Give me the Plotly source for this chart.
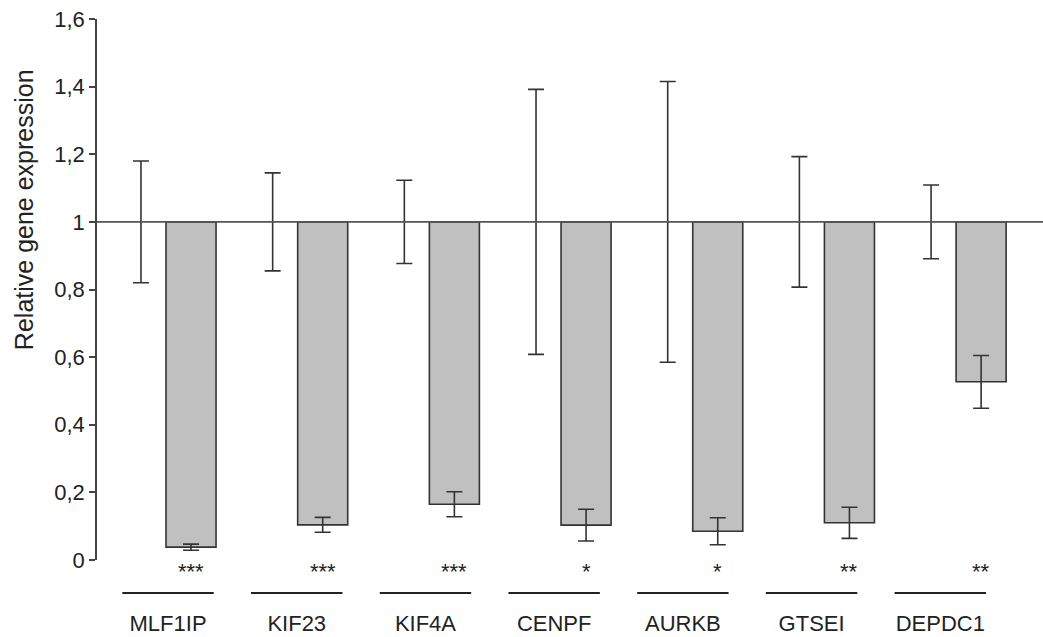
import plotly.graph_objects as go

genes = ["MLF1IP", "KIF23", "KIF4A", "CENPF", "AURKB", "GTSEI", "DEPDC1"]
control_mean = [1, 1, 1, 1, 1, 1, 1]
control_err = [0.18, 0.145, 0.123, 0.392, 0.415, 0.193, 0.109]
kd_mean = [0.038, 0.104, 0.165, 0.103, 0.085, 0.110, 0.527]
kd_err = [0.009, 0.022, 0.037, 0.047, 0.040, 0.046, 0.078]
signif = ["***", "***", "***", "*", "*", "**", "**"]
y_ticks = [0, 0.2, 0.4, 0.6, 0.8, 1, 1.2, 1.4, 1.6]
y_title = "Relative gene expression"

FONT = "Liberation Sans, Arial, Helvetica, sans-serif"
base = 1

fig = go.Figure()
fig.add_trace(go.Bar(
    x=genes, y=[v - base for v in control_mean], base=[base] * len(genes),
    marker=dict(color="rgba(255,255,255,0)", line=dict(width=0)),
    error_y=dict(type="data", array=control_err, color="#333333", thickness=1.6, width=8),
    name="control", showlegend=False,
))
fig.add_trace(go.Bar(
    x=genes, y=[v - base for v in kd_mean], base=[base] * len(genes),
    marker=dict(color="#c0c0c0", line=dict(color="#333333", width=1.6)),
    error_y=dict(type="data", array=kd_err, color="#333333", thickness=1.6, width=8),
    name="knockdown", showlegend=False,
))
# label axis (gene names + underlines sit on a slightly different spacing in the original)
fig.add_trace(go.Scatter(x=genes, y=[None] * len(genes), xaxis="x2", yaxis="y",
                         mode="markers", marker=dict(opacity=0), showlegend=False,
                         hoverinfo="skip"))

# reference line at 1
fig.add_shape(type="line", xref="paper", yref="y", x0=0, x1=1, y0=1, y1=1,
              line=dict(color="#555555", width=1.6), layer="above")

for i, g in enumerate(genes):
    fig.add_shape(type="line", xref="x2", yref="paper", x0=i - 0.355, x1=i + 0.355,
                  y0=-0.061, y1=-0.061, line=dict(color="#222222", width=2))
    fig.add_annotation(x=i + 0.19, xref="x", y=-0.022, yref="paper", text=signif[i],
                       showarrow=False, yanchor="middle",
                       font=dict(family=FONT, size=22, color="#222222"))

# y-axis title (placed off-centre, as in the original)
fig.add_annotation(x=-0.077, xref="paper", y=0.647, yref="paper", text=y_title,
                   textangle=-90, showarrow=False, xanchor="center", yanchor="middle",
                   font=dict(family=FONT, size=25, color="#222222"))

fig.update_layout(
    width=1043, height=637,
    margin=dict(l=97, r=0, t=19, b=77),
    paper_bgcolor="white", plot_bgcolor="white",
    barmode="group", bargap=0.24, bargroupgap=0,
    separators=",.",
    font=dict(family=FONT, color="#222222"),
    xaxis=dict(type="category", range=[-0.524, 6.66], showline=False, ticks="",
               showgrid=False, zeroline=False, showticklabels=False),
    xaxis2=dict(type="category", overlaying="x", anchor="y", side="bottom",
                range=[-0.552, 6.798], showline=False, ticks="",
                showgrid=False, zeroline=False, ticklabelstandoff=48,
                tickfont=dict(family=FONT, size=22, color="#222222")),
)
fig.update_yaxes(range=[0, 1.6], tickvals=y_ticks, ticktext=[str(t).replace(".", ",") for t in y_ticks],
                 showline=True, linecolor="#444444", linewidth=1.6,
                 ticks="outside", ticklen=6, tickcolor="#444444", tickwidth=1.6,
                 showgrid=False, zeroline=False,
                 tickfont=dict(family=FONT, size=22, color="#222222"))

fig.write_html("out.html", config={"displayModeBar": False},
               post_script="document.body.style.margin='0';")
